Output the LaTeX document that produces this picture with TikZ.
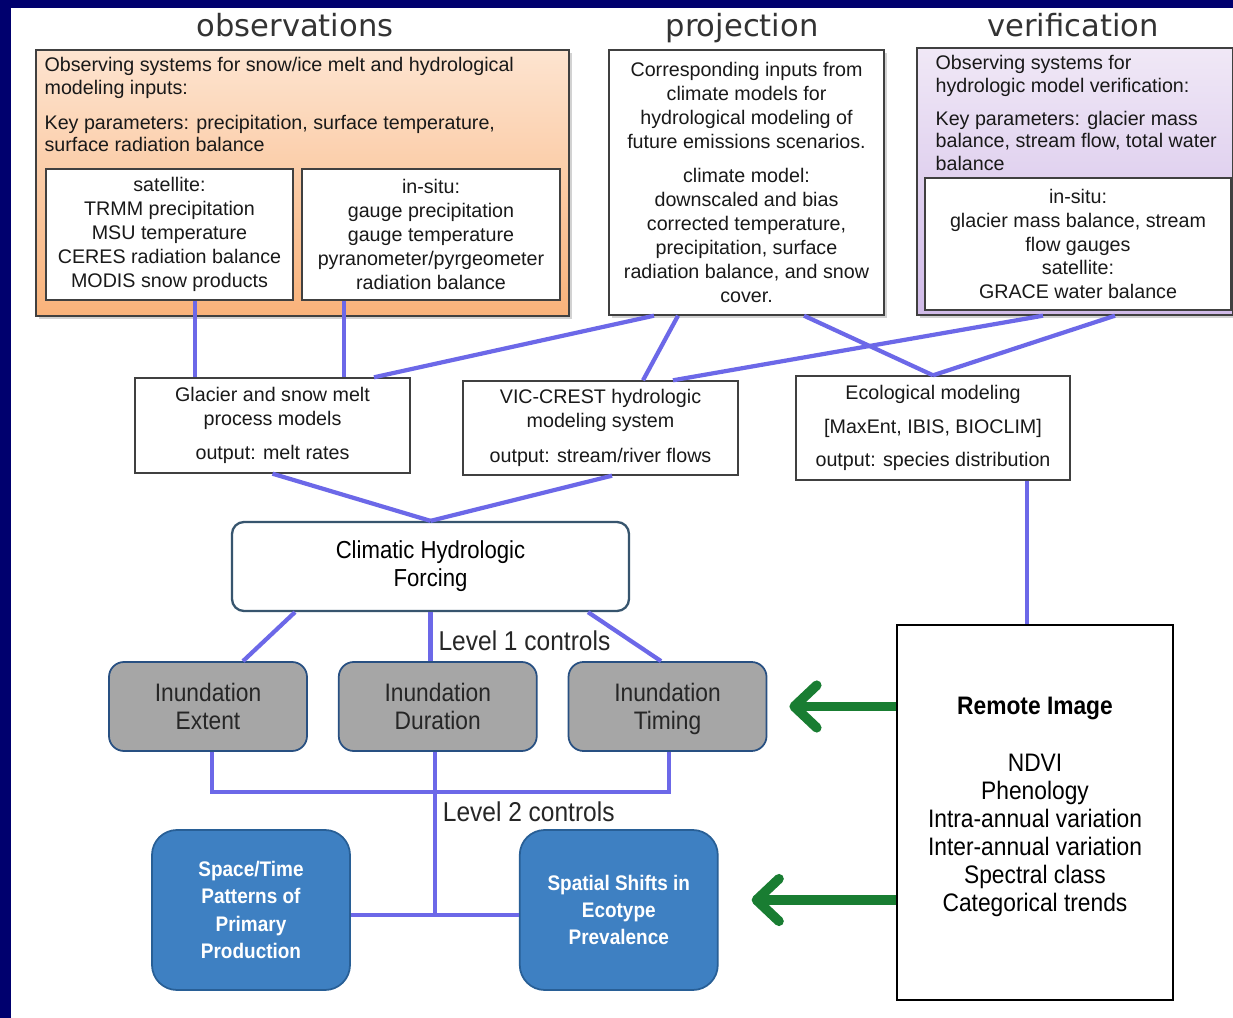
\documentclass[tikz,border=0pt]{standalone}
\usepackage{fontspec}
\setmainfont{Liberation Sans}
\newfontfamily\headfont{DejaVu Sans}
\newfontfamily\narrowfont[FakeStretch=0.9]{Liberation Sans}
\usepackage{xcolor}
\usepackage{tikz}
\usetikzlibrary{arrows.meta,positioning,calc,shadows}
\definecolor{navy}{RGB}{0,0,110}
\definecolor{obstop}{RGB}{253,228,208}
\definecolor{obsbot}{RGB}{249,178,122}
\definecolor{vertop}{RGB}{240,232,246}
\definecolor{verbot}{RGB}{208,186,232}
\definecolor{lav}{RGB}{108,104,232}
\definecolor{gdark}{RGB}{25,125,50}
\definecolor{chfline}{RGB}{55,85,110}
\definecolor{grayfill}{RGB}{166,166,166}
\definecolor{grayline}{RGB}{40,80,130}
\definecolor{bluefill}{RGB}{62,128,194}
\definecolor{blueline}{RGB}{40,95,150}
\tikzset{
  hdr/.style   ={font=\headfont\fontsize{17.4}{20}\selectfont, text=black!80, inner sep=0pt},
  txt/.style   ={font=\fontsize{11.2}{12.8}\selectfont, align=left, inner sep=0pt, text=black!90},
  tbox/.style  ={draw=black!75, line width=0.8pt, align=center, inner sep=0pt,
                 font=\fontsize{11.2}{13.6}\selectfont, text=black!90},
  wbox/.style  ={tbox, fill=white},
  tshad/.style ={drop shadow={opacity=0.35, shadow xshift=0.6mm, shadow yshift=-0.6mm}},
  obsbox/.style={tbox, tshad, top color=obstop, bottom color=obsbot},
  verbox/.style={tbox, tshad, top color=vertop, bottom color=verbot},
  mbox/.style  ={wbox, minimum width=55mm, font=\fontsize{11.2}{13.7}\selectfont},
  cbox/.style  ={draw=chfline, line width=1.3pt, rounded corners=2.4mm, fill=white,
                 align=center, font=\narrowfont\fontsize{14}{16}\selectfont},
  gbox/.style  ={draw=grayline, line width=1pt, rounded corners=3mm, fill=grayfill,
                 align=center, minimum width=39.6mm, minimum height=17.8mm, text depth=0pt,
                 font=\narrowfont\fontsize{14.4}{16}\selectfont, text=black!85},
  bbox/.style  ={draw=blueline, line width=1pt, rounded corners=5mm, fill=bluefill,
                 align=center, minimum width=39.6mm, minimum height=32mm,
                 font=\narrowfont\bfseries\fontsize{12}{15.6}\selectfont, text=white},
  rbox/.style  ={draw=black, line width=1.6pt, fill=white, align=center,
                 minimum width=55.2mm, minimum height=75mm,
                 font=\narrowfont\fontsize{14.4}{16}\selectfont},
  lvl/.style   ={font=\narrowfont\fontsize{15.5}{18}\selectfont, inner sep=1.2mm, text=black!85},
  conn/.style  ={draw=lav, line width=2.4pt},
  garr/.style  ={draw=gdark, line width=5.5pt,
                 -{Straight Barb[length=4.5mm, width=8.5mm, round]}},
}
\begin{document}
\begin{tikzpicture}[x=0.2mm, y=-0.2mm]
% frame
\fill[navy] (0,0) rectangle (1233,1018);
\fill[white] (11,8) rectangle (1233,1018);
\useasboundingbox (0,0) rectangle (1233,1018);

% headings
\node[hdr, anchor=base] (hobs) at (295,37) {observations};
\node[hdr, anchor=base] (hproj) at (742,37) {projection};
\node[hdr, anchor=base] (hver) at (1073,37) {verification};

% observations
\node[obsbox, minimum width=106.6mm, minimum height=53.2mm] (obs) at (302.5,183) {};
\node[txt, anchor=north west] (obstxt) at ([shift={(1.8mm,-1.6mm)}]obs.north west)
  {Observing systems for snow/ice melt and hydrological\\modeling inputs:\\[7pt]
   Key parameters: precipitation, surface temperature,\\surface radiation balance};
\node[wbox, minimum width=49.4mm, minimum height=26.2mm] (sat) at (169.5,234.5)
  {satellite:\\TRMM precipitation\\MSU temperature\\CERES radiation balance\\MODIS snow products};
\node[wbox, minimum width=51.6mm, minimum height=26.2mm] (ins) at (431,234.5)
  {in-situ:\\gauge precipitation\\gauge temperature\\pyranometer/pyrgeometer\\radiation balance};

% projection
\node[wbox, tshad, minimum width=55mm, minimum height=53mm] (proj) at (746.5,182.5)
  {Corresponding inputs from\\climate models for\\hydrological modeling of\\future emissions scenarios.\\[6pt]
   climate model:\\downscaled and bias\\corrected temperature,\\precipitation, surface\\radiation balance, and snow\\cover.};

% verification
\node[verbox, minimum width=63.2mm, minimum height=53.4mm] (ver) at (1075,181.5) {};
\node[txt, anchor=north west] (vertxt) at ([shift={(3.8mm,-1.6mm)}]ver.north west)
  {Observing systems for\\hydrologic model verification:\\[6pt]
   Key parameters: glacier mass\\balance, stream flow, total water\\balance};
\node[wbox, minimum width=61.2mm, minimum height=26.4mm] (verin) at (1078,244)
  {in-situ:\\glacier mass balance, stream\\flow gauges\\satellite:\\GRACE water balance};

% models
\node[mbox, minimum height=19mm] (gla) at (272.5,425.5)
  {Glacier and snow melt\\process models\\[6pt]output: melt rates};
\node[mbox, minimum height=18.8mm] (vic) at (600.5,428)
  {VIC-CREST hydrologic\\modeling system\\[6pt]output: stream/river flows};
\node[mbox, minimum width=54.8mm, minimum height=20.8mm] (eco) at (933,428)
  {Ecological modeling\\[5.5pt]{[}MaxEnt, IBIS, BIOCLIM{]}\\[5.5pt]output: species distribution};

\node[cbox, minimum width=79.4mm, minimum height=17.8mm] (chf) at (430.5,566.5)
  {Climatic Hydrologic\\Forcing};

% inundation
\node[gbox] (ext) at (208,706.5) {Inundation\\Extent};
\node[gbox, right=6mm of ext] (dur) {Inundation\\Duration};
\node[gbox, right=6mm of dur] (tim) {Inundation\\Timing};

% outcomes
\node[bbox] (stp) at (251,910) {Space/Time\\Patterns of\\Primary\\Production};
\node[bbox, right=33.6mm of stp] (shf) {Spatial Shifts in\\Ecotype\\Prevalence};

\node[rbox] (rem) at (1035,812.5)
  {\textbf{Remote Image}\\[16pt]NDVI\\Phenology\\Intra-annual variation\\Inter-annual variation\\Spectral class\\Categorical trends\\[-7pt]};

% connectors
\draw[conn] ([xshift=5.1mm]sat.south) -- ([xshift=5.1mm]sat.south |- gla.north);
\draw[conn] ([xshift=-17.4mm]ins.south) -- ([xshift=-17.4mm]ins.south |- gla.north);
\draw[conn] ([xshift=-18.5mm]proj.south) -- ([xshift=20.3mm]gla.north);
\draw[conn] ([xshift=-13.7mm]proj.south) -- ([xshift=8.5mm]vic.north);
\draw[conn] ([xshift=11.5mm]proj.south) -- (eco.north);
\draw[conn] ([xshift=-6.4mm]ver.south) -- ([xshift=14.5mm]vic.north);
\draw[conn] ([xshift=8mm]ver.south) -- (eco.north);
\draw[conn] (gla.south) -- (chf.north);
\draw[conn] ([xshift=2.3mm]vic.south) -- (chf.north);
\draw[conn] ([xshift=18.8mm]eco.south) -- ([xshift=18.8mm]eco.south |- rem.north);
\draw[conn] ([xshift=-27.1mm]chf.south) -- ([xshift=7mm]ext.north);
\draw[conn] (chf.south) -- node[lvl, pos=0.59, right] {Level 1 controls} (chf.south |- dur.north);
\draw[conn] ([xshift=31.5mm]chf.south) -- ([xshift=-1.3mm]tim.north);
\draw[conn] ([xshift=0.8mm]ext.south) -- ++(0,40) -| ([xshift=0.3mm]tim.south);
\path ([xshift=-0.6mm]dur.south) coordinate (dbot);
\coordinate (jn) at ($(dbot |- stp.east)+(0,5)$);
\draw[conn] (dbot) -- node[lvl, pos=0.37, right] {Level 2 controls} (jn);
\draw[conn] (jn -| stp.east) -- (jn -| shf.west);

% remote sensing inputs
\draw[garr] (rem.west |- tim.east) -- ([xshift=4.4mm]tim.east);
\coordinate (a2) at ([xshift=6.6mm,yshift=2mm]shf.east);
\draw[garr] (rem.west |- a2) -- (a2);
\end{tikzpicture}
\end{document}
